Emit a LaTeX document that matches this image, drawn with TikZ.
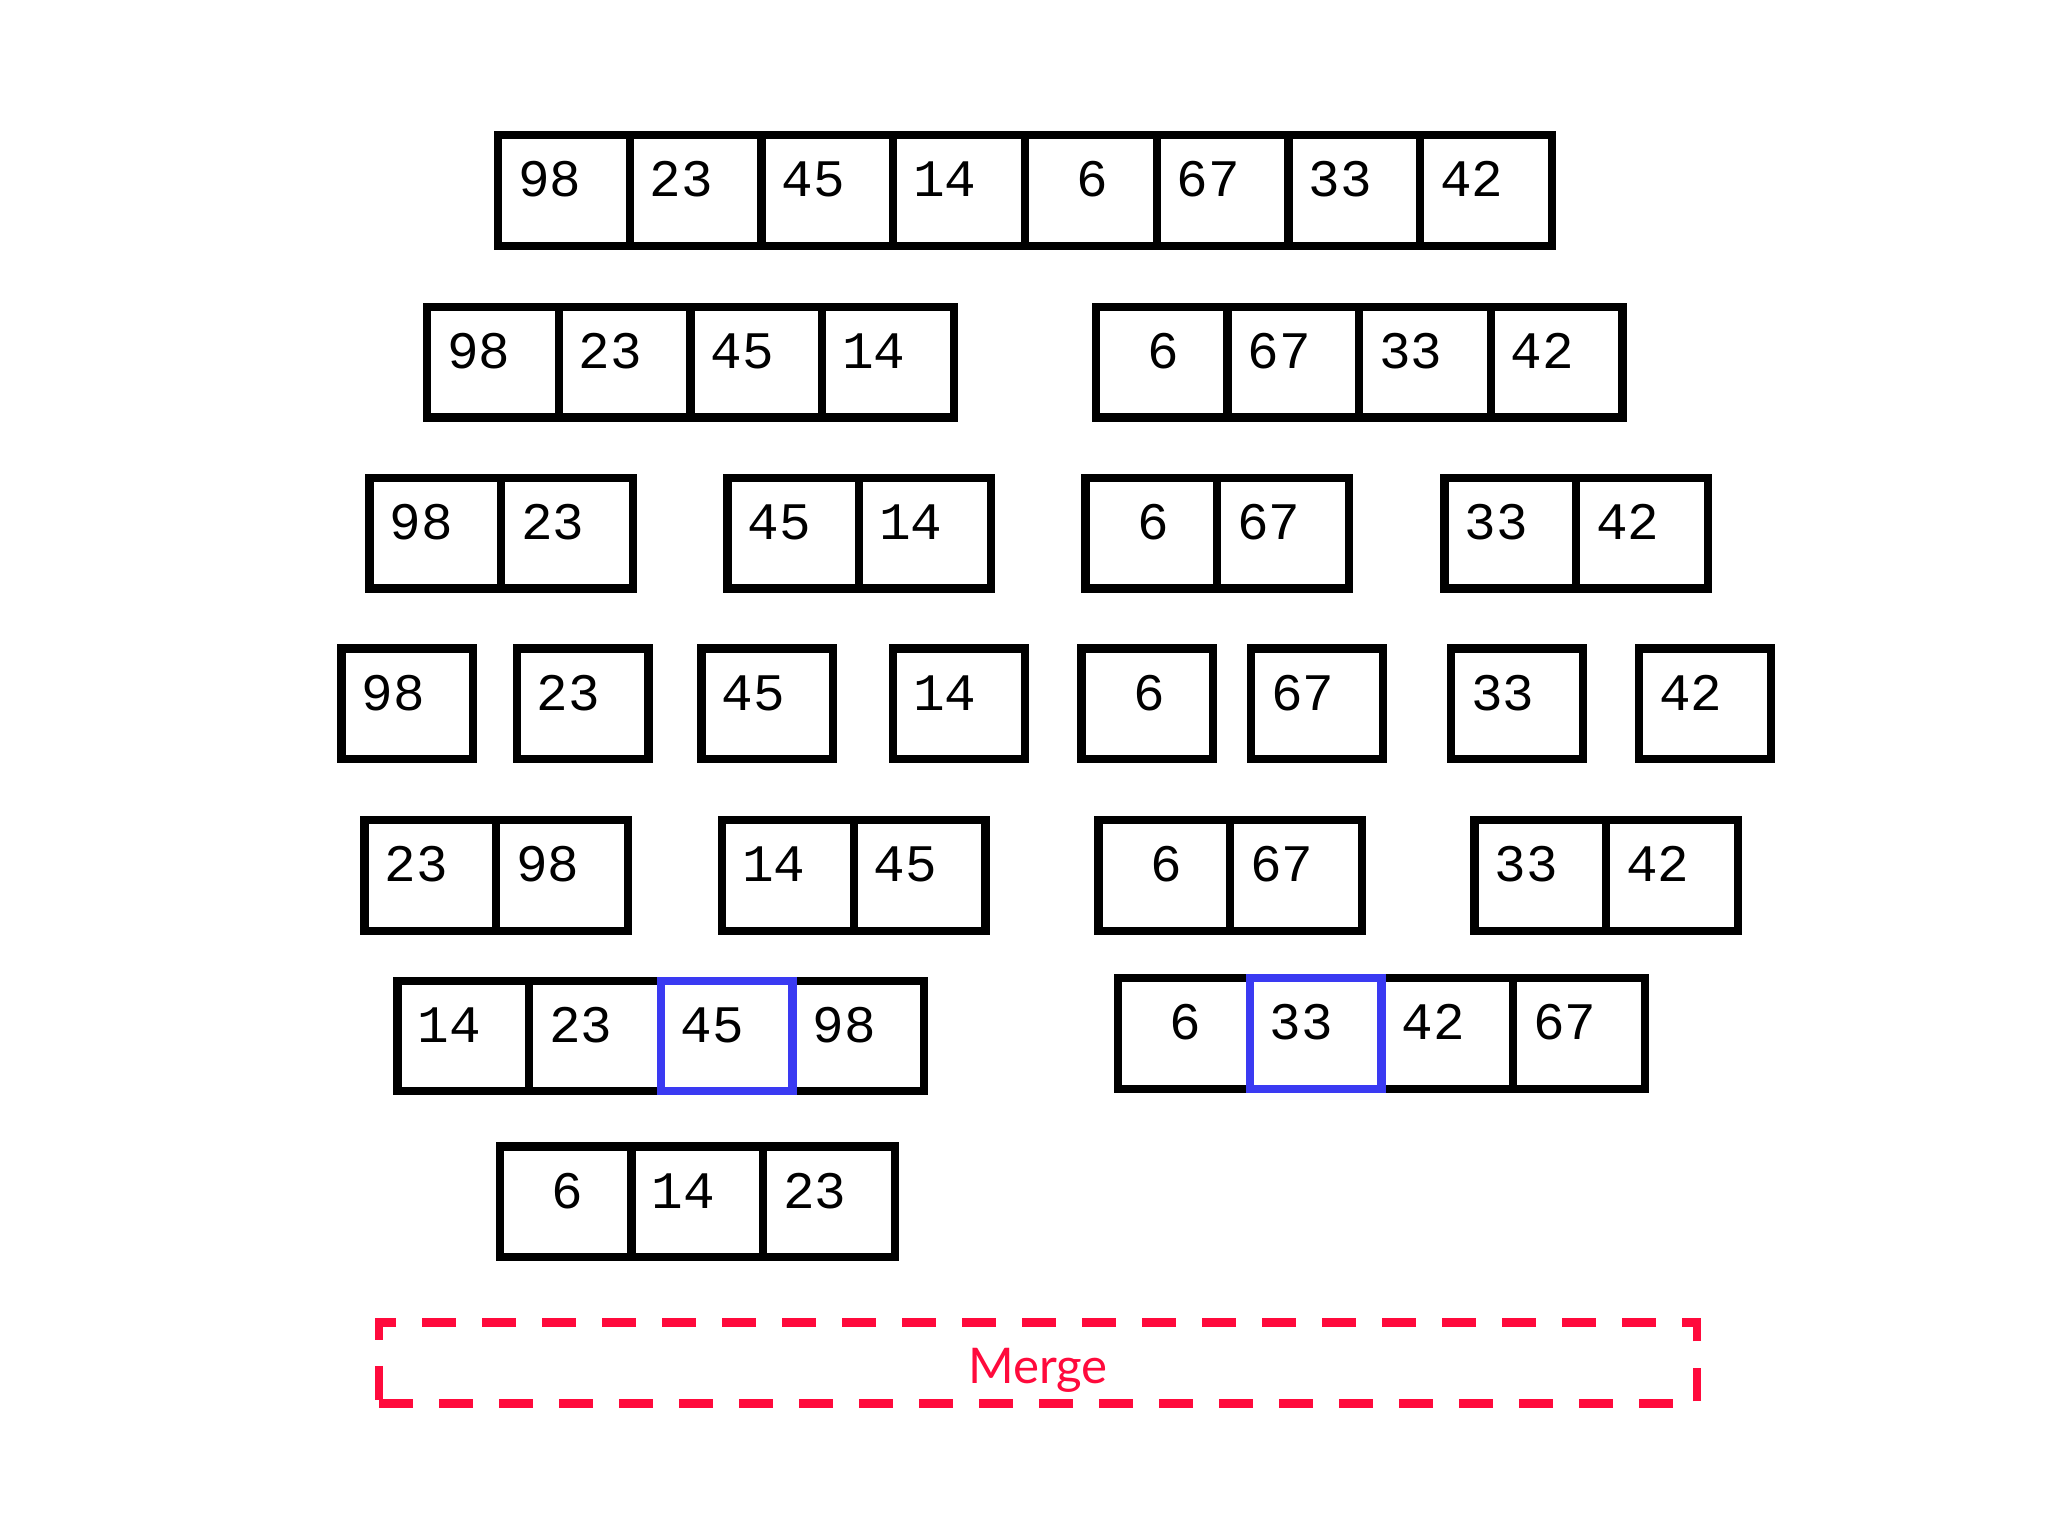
\documentclass[tikz,border=0pt]{standalone}
\usepackage{fontspec}
\usepackage{tikz}
\newfontfamily\monoCelda{Liberation Mono}
\newfontfamily\latoTexto{Lato}
\definecolor{azulMarca}{HTML}{3A3AF2}
\definecolor{rojoMerge}{HTML}{FF0A3C}

\begin{document}
\begin{tikzpicture}[
    celda/.style={draw=black, line width=0.083cm, outer sep=0pt,
      inner xsep=0.2cm, inner ysep=0pt, anchor=north west,
      minimum width=1.317cm, minimum height=1.105cm,
      text width=0.917cm, align=left, text height=0.615cm, text depth=0.49cm,
      font=\monoCelda\fontsize{15}{15}\selectfont},
    marca/.style={draw=azulMarca, line width=0.083cm}]
          \fill[white] (0,0) rectangle (20.48,-15.36);
          \useasboundingbox (0,0) rectangle (20.48,-15.36);
          % filas de celdas
          \foreach \g/\gx/\gy/\vals in {
              f1/4.982/-1.352/{98,23,45,14,\hphantom{0}6,67,33,42},
              f2a/4.272/-3.070/{98,23,45,14},
              f2b/10.958/-3.070/{\hphantom{0}6,67,33,42},
              f3a/3.696/-4.781/{98,23},
              f3b/7.274/-4.781/{45,14},
              f3c/10.854/-4.781/{\hphantom{0}6,67},
              f3d/14.445/-4.781/{33,42},
              f4a/3.415/-6.485/{98},
              f4b/5.168/-6.485/{23},
              f4c/7.014/-6.485/{45},
              f4d/8.933/-6.485/{14},
              f4e/10.815/-6.485/{\hphantom{0}6},
              f4f/12.512/-6.485/{67},
              f4g/14.510/-6.485/{33},
              f4h/16.391/-6.485/{42},
              f5a/3.644/-8.203/{23,98},
              f5b/7.222/-8.203/{14,45},
              f5c/10.984/-8.203/{\hphantom{0}6,67},
              f5d/14.746/-8.203/{33,42},
              f6a/3.975/-9.808/{14,23,45,98},
              f6b/11.180/-9.783/{\hphantom{0}6,33,42,67},
              f7/4.999/-11.465/{\hphantom{0}6,14,23}}{
            \foreach \v [count=\i] in \vals
              \node[celda] (\g-\i) at ({\gx+(\i-1)*1.317},\gy) {\v};
          }
          % celdas marcadas
          \draw[marca] (f6a-3.north west) rectangle (f6a-3.south east);
          \draw[marca] (f6b-2.north west) rectangle (f6b-2.south east);
          \node[draw=rojoMerge, line width=0.083cm, dash pattern=on 0.337cm off 0.263cm,
            minimum width=13.178cm, minimum height=0.81cm, text=rojoMerge, text depth=0pt,
            inner ysep=0pt, font=\latoTexto\fontsize{14}{14}\selectfont] (merge) at (10.381,-13.63) {\raisebox{-0.06cm}{Merge}};
        \end{tikzpicture}
\end{document}
